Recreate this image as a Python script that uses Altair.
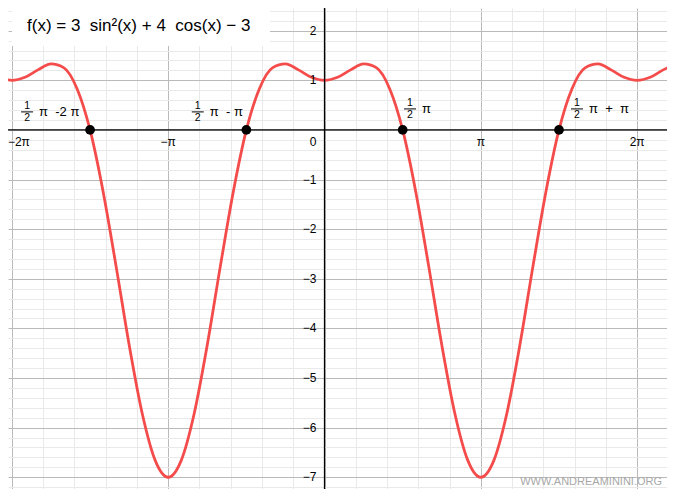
import altair as alt
import pandas as pd

# ---- data (x in units of pi) ----
curve_x = [k / 12 for k in range(-25, 28)]
curve_y = [1.06, 1.00, 1.06, 1.21, 1.33, 1.25, 0.83, 0.00, -1.24, -2.75, -4.33, -5.71, -6.66, -7.00,
           -6.66, -5.71, -4.33, -2.75, -1.24, 0.00, 0.83, 1.25, 1.33, 1.21, 1.06,
           1.00,
           1.06, 1.21, 1.33, 1.25, 0.83, 0.00, -1.24, -2.75, -4.33, -5.71, -6.66, -7.00,
           -6.66, -5.71, -4.33, -2.75, -1.24, 0.00, 0.83, 1.25, 1.33, 1.21, 1.06, 1.00,
           1.06, 1.21, 1.33]

zero_x = [-1.5, -0.5, 0.5, 1.5]
zero_y = [0, 0, 0, 0]

lab_x = [-1.903, -0.811, 0.547, 1.615]
lab_y = [0.49, 0.49, 0.55, 0.55]
lab_num = ["1", "1", "1", "1"]
lab_den = ["2", "2", "2", "2"]
lab_rest = ["π\u00a0\u00a0-2\u00a0π", "π\u00a0\u00a0-\u00a0π", "π", "π\u00a0\u00a0+\u00a0\u00a0π"]

xtick_vals = [-1, 1, 2]
xtick_text = ["−π", "π", "2π"]
xtick_left_vals = [-2]
xtick_left_text = ["−2π"]
ytick_vals = [2, 1, -1, -2, -3, -4, -5, -6, -7]
ytick_text = ["2", "1", "−1", "−2", "−3", "−4", "−5", "−6", "−7"]

title_text = "f(x)\u00a0=\u00a03\u00a0\u00a0sin²(x)\u00a0+\u00a04\u00a0\u00a0cos(x)\u00a0−\u00a03"
watermark = "WWW.ANDREAMININI.ORG"

FONT = "Liberation Sans"

# ---- scales / axes ----
xscale = alt.Scale(domain=[-2.025, 2.191], nice=False, zero=False)
yscale = alt.Scale(domain=[-7.237, 2.457], nice=False, zero=False)

xgrid_vals = [round(i * 0.2, 1) for i in range(-10, 12)]
ygrid_vals = [round(i * 0.2, 1) for i in range(-36, 13)]

major_test = "abs(datum.value - round(datum.value)) < 0.001"
xaxis = alt.Axis(values=xgrid_vals, grid=True, labels=False, ticks=False, domain=False, title=None,
                 gridColor={"condition": {"test": major_test, "value": "#bababa"}, "value": "#e9e9e9"},
                 gridWidth=1)
yaxis = alt.Axis(values=ygrid_vals, grid=True, labels=False, ticks=False, domain=False, title=None,
                 gridColor={"condition": {"test": major_test, "value": "#bababa"}, "value": "#e9e9e9"},
                 gridWidth=1)


def X(f):
    return alt.X(f, type="quantitative", scale=xscale, axis=xaxis)


def Y(f):
    return alt.Y(f, type="quantitative", scale=yscale, axis=yaxis)


curve_df = pd.DataFrame({"x": curve_x, "y": curve_y})
zero_df = pd.DataFrame({"x": zero_x, "y": zero_y})
lab_df = pd.DataFrame({"x": lab_x, "y": lab_y, "num": lab_num, "den": lab_den, "rest": lab_rest})
xt_df = pd.DataFrame({"x": xtick_vals, "y": [0] * len(xtick_vals), "t": xtick_text})
xtl_df = pd.DataFrame({"x": xtick_left_vals, "y": [0], "t": xtick_left_text})
yt_df = pd.DataFrame({"x": [0] * len(ytick_vals), "y": ytick_vals, "t": ytick_text})
origin_df = pd.DataFrame({"x": [0], "y": [0], "t": ["0"]})
one_df = pd.DataFrame({"a": [0]})

curve = alt.Chart(curve_df).mark_line(color="#f44b4b", strokeWidth=2.8, interpolate="monotone",
                                      clip=True).encode(x=X("x"), y=Y("y"))

xaxis_line = alt.Chart(pd.DataFrame({"y": [0]})).mark_rule(color="black", strokeWidth=1.3).encode(y=Y("y"))
yaxis_line = alt.Chart(pd.DataFrame({"x": [0]})).mark_rule(color="black", strokeWidth=1.3).encode(x=X("x"))

xt = alt.Chart(xt_df).mark_text(font=FONT, fontSize=12, color="black", align="center",
                                baseline="middle", dy=12).encode(x=X("x"), y=Y("y"), text="t:N")
xtl = alt.Chart(xtl_df).mark_text(font=FONT, fontSize=12, color="black", align="left",
                                  baseline="middle", dx=-4, dy=12).encode(x=X("x"), y=Y("y"), text="t:N")
yt = alt.Chart(yt_df).mark_text(font=FONT, fontSize=12, color="black", align="right",
                                baseline="middle", dx=-8).encode(x=X("x"), y=Y("y"), text="t:N")
ot = alt.Chart(origin_df).mark_text(font=FONT, fontSize=12, color="black", align="right",
                                    baseline="middle", dx=-8, dy=12).encode(x=X("x"), y=Y("y"), text="t:N")

pts = alt.Chart(zero_df).mark_point(filled=True, color="black", size=95, opacity=1).encode(x=X("x"), y=Y("y"))

num = alt.Chart(lab_df).mark_text(font=FONT, fontSize=10.5, color="black", align="center",
                                  baseline="middle").encode(x=X("x"), y=Y("y"), text="num:N")
den = alt.Chart(lab_df).mark_text(font=FONT, fontSize=10.5, color="black", align="center",
                                  baseline="middle", dy=12.5).encode(x=X("x"), y=Y("y"), text="den:N")
bar = alt.Chart(lab_df).mark_tick(orient="horizontal", size=12, thickness=1, color="black",
                                  yOffset=6.3, opacity=1).encode(x=X("x"), y=Y("y"))
rest = alt.Chart(lab_df).mark_text(font=FONT, fontSize=13, color="black", align="left",
                                   baseline="middle", dx=12, dy=6.5).encode(x=X("x"), y=Y("y"), text="rest:N")

box = alt.Chart(one_df).mark_rect(color="white", opacity=1).encode(
    x=alt.value(4), x2=alt.value(262), y=alt.value(0), y2=alt.value(38))
title = alt.Chart(one_df).mark_text(font=FONT, fontSize=17, color="black", align="left",
                                    baseline="middle", text=title_text).encode(
    x=alt.value(19), y=alt.value(18))
wm = alt.Chart(one_df).mark_text(font=FONT, fontSize=11, color="#a8a8a8", align="right",
                                 baseline="middle", text=watermark).encode(
    x=alt.value(654), y=alt.value(474))

chart = alt.layer(curve, xaxis_line, yaxis_line, xt, xtl, yt, ot, pts, num, den, bar, rest, box, title, wm).properties(
    width=659, height=481, padding=0,
    autosize=alt.AutoSizeParams(type="none"),
).configure_view(stroke=None)

chart.save("out.html", embed_options={"renderer": "svg", "actions": False})
